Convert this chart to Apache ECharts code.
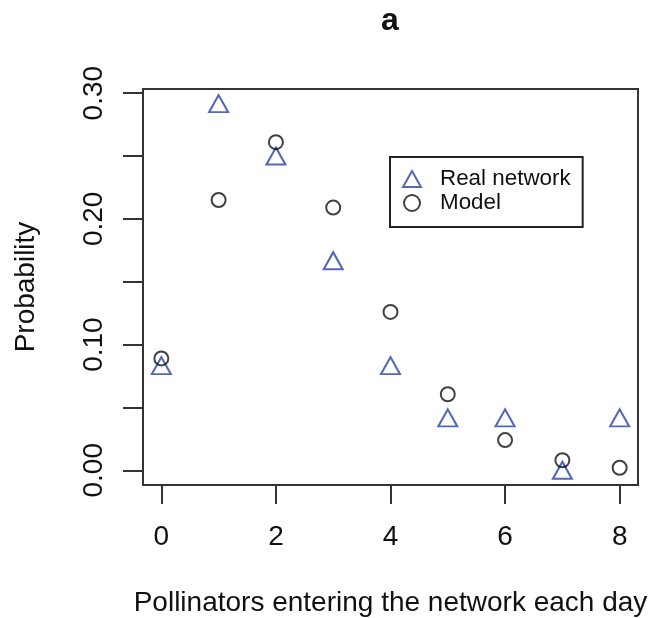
<!DOCTYPE html>
<html>
<head>
<meta charset="utf-8">
<script src="https://cdn.jsdelivr.net/npm/echarts@6/dist/echarts.min.js"></script>
<style>
  html, body { margin: 0; padding: 0; background: #fff; }
  #chart { width: 650px; height: 618px; }
</style>
</head>
<body>
<div id="chart"></div>
<script>
const titleText = 'a';
const xName = 'Pollinators entering the network each day';
const yName = 'Probability';
const pollinators = [0, 1, 2, 3, 4, 5, 6, 7, 8];
const realNetwork = [0.0833, 0.2917, 0.25, 0.1667, 0.0833, 0.0417, 0.0417, 0.0, 0.0417];
const model = [0.089, 0.215, 0.261, 0.209, 0.126, 0.0605, 0.024, 0.008, 0.002];
const xTickValues = [0, 2, 4, 6, 8];
const yTickValues = [0, 0.05, 0.1, 0.15, 0.2, 0.25, 0.3];
const yLabelValues = [0, 0.1, 0.2, 0.3];
const seriesNames = ['Real network', 'Model'];

const font = 'Liberation Sans, Arial, Helvetica, sans-serif';
const chart = echarts.init(document.getElementById('chart'), null, { renderer: 'canvas' });

const realData = pollinators.map((x, i) => [x, realNetwork[i]]);
const modelData = pollinators.map((x, i) => [x, model[i]]);

chart.setOption({
  animation: false,
  backgroundColor: '#ffffff',
  title: {
    text: titleText,
    left: 390,
    top: 5,
    padding: 0,
    textAlign: 'center',
    textStyle: { fontFamily: font, fontSize: 32, fontWeight: 'bold', color: '#111', lineHeight: 32 }
  },
  grid: {
    left: 143, right: 12, top: 89, bottom: 133,
    outerBoundsMode: 'none',
    containLabel: false,
    show: true, borderColor: '#333', borderWidth: 2, backgroundColor: 'transparent'
  },
  legend: {
    orient: 'vertical',
    left: 390, top: 157,
    padding: [11, 12, 13, 12],
    itemWidth: 18, itemHeight: 16, itemGap: 2,
    borderColor: '#222', borderWidth: 2,
    backgroundColor: '#fff',
    data: seriesNames,
    textStyle: { fontFamily: font, fontSize: 22.4, color: '#111', lineHeight: 22, padding: [0, 0, 0, 14] }
  },
  xAxis: {
    type: 'value',
    min: -0.32, max: 8.32,
    name: xName,
    nameLocation: 'middle',
    nameGap: 104,
    nameTextStyle: { fontFamily: font, fontSize: 28, color: '#111', lineHeight: 28 },
    axisLine: { show: false, onZero: false },
    splitLine: { show: false },
    axisTick: { show: true, inside: false, length: 19, customValues: xTickValues, lineStyle: { color: '#333', width: 2 } },
    axisLabel: { customValues: xTickValues, margin: 38, fontFamily: font, fontSize: 28, color: '#111', lineHeight: 28 }
  },
  yAxis: {
    type: 'value',
    min: -0.0117, max: 0.3033,
    name: yName,
    nameLocation: 'middle',
    nameGap: 103,
    nameRotate: 90,
    nameTextStyle: { fontFamily: font, fontSize: 28, color: '#111', lineHeight: 28 },
    axisLine: { show: false, onZero: false },
    splitLine: { show: false },
    axisTick: { show: true, inside: false, length: 20, customValues: yTickValues, lineStyle: { color: '#333', width: 2 } },
    axisLabel: {
      customValues: yLabelValues, rotate: 90, margin: 35,
      fontFamily: font, fontSize: 28, color: '#111', lineHeight: 28,
      formatter: v => Number(v).toFixed(2)
    }
  },
  series: [
    {
      name: seriesNames[0], type: 'scatter', data: realData,
      symbol: 'triangle', symbolSize: [19, 17],
      itemStyle: { color: 'rgba(255,255,255,0)', borderColor: '#2842a4', borderWidth: 2 }
    },
    {
      name: seriesNames[1], type: 'scatter', data: modelData,
      symbol: 'circle', symbolSize: 14,
      itemStyle: { color: 'rgba(255,255,255,0)', borderColor: '#111', borderWidth: 2 }
    }
  ]
});
</script>
</body>
</html>
